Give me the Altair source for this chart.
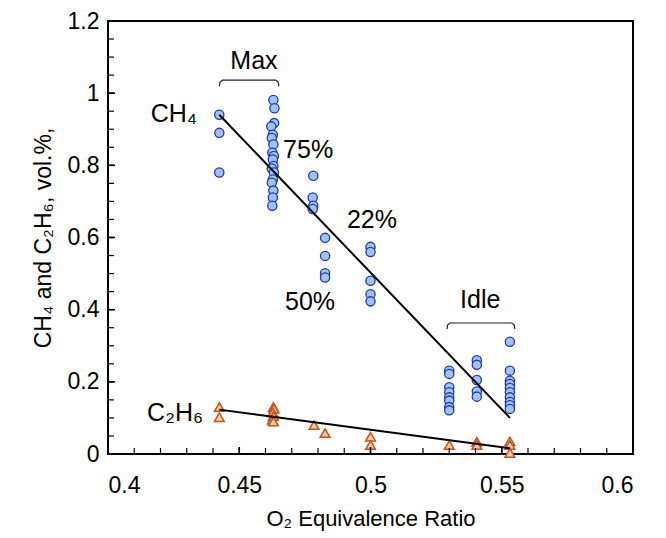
import altair as alt
import pandas as pd

# ---------------- data ----------------
ch4_x = [0.4424, 0.4424, 0.4424,
         0.4630, 0.4634, 0.4633, 0.4622, 0.4628, 0.4624, 0.4630, 0.4626, 0.4632, 0.4628,
         0.4630, 0.4624, 0.4632, 0.4628, 0.4624, 0.4630, 0.4628, 0.4626,
         0.4782, 0.4780, 0.4782, 0.4780,
         0.4827, 0.4827, 0.4827, 0.4827,
         0.5000, 0.5000, 0.5000, 0.5000, 0.5000,
         0.5300, 0.5300, 0.5300, 0.5300, 0.5300, 0.5300, 0.5300, 0.5300,
         0.5405, 0.5405, 0.5405, 0.5405, 0.5405,
         0.5531, 0.5531, 0.5531, 0.5531, 0.5531, 0.5531, 0.5531, 0.5531, 0.5531, 0.5531]
ch4_y = [0.94, 0.89, 0.78,
         0.981, 0.958, 0.917, 0.908, 0.885, 0.876, 0.858, 0.835, 0.826, 0.816,
         0.798, 0.791, 0.780, 0.761, 0.752, 0.730, 0.711, 0.688,
         0.771, 0.711, 0.688, 0.679,
         0.599, 0.549, 0.501, 0.489,
         0.574, 0.560, 0.480, 0.443, 0.423,
         0.231, 0.222, 0.185, 0.171, 0.157, 0.148, 0.130, 0.121,
         0.260, 0.247, 0.205, 0.173, 0.159,
         0.311, 0.231, 0.203, 0.194, 0.183, 0.171, 0.157, 0.144, 0.135, 0.125]

c2h6_x = [0.4424, 0.4424,
          0.4630, 0.4632, 0.4628, 0.4630, 0.4626, 0.4630,
          0.4785, 0.4827, 0.5000, 0.5000, 0.5300,
          0.5405, 0.5405, 0.5531, 0.5531, 0.5531]
c2h6_y = [0.130, 0.102,
          0.130, 0.125, 0.115, 0.105, 0.095, 0.090,
          0.080, 0.058, 0.048, 0.025, 0.025,
          0.034, 0.025, 0.035, 0.025, 0.003]

ch4_fit_x = [0.4424, 0.5531]
ch4_fit_y = [0.94, 0.10]
c2h6_fit_x = [0.4424, 0.5531]
c2h6_fit_y = [0.123, 0.016]

labels_text = ["Max", "Idle", "CH\u2084", "C\u2082H\u2086", "75%", "22%", "50%"]
labels_x = [0.4556, 0.5418, 0.4251, 0.4362, 0.4667, 0.4910, 0.4865]
labels_y = [1.090, 0.428, 0.942, 0.113, 0.843, 0.648, 0.420]
labels_align = ["center", "center", "center", "right", "left", "left", "right"]

max_br_x = [0.4424, 0.4427, 0.4436, 0.4639, 0.4648, 0.4651]
max_br_y = [1.019, 1.031, 1.036, 1.036, 1.031, 1.019]
idle_br_x = [0.5291, 0.5294, 0.5303, 0.5538, 0.5547, 0.5550]
idle_br_y = [0.346, 0.358, 0.363, 0.363, 0.358, 0.346]

x_major = [0.4, 0.45, 0.5, 0.55, 0.6]
y_major = [0, 0.2, 0.4, 0.6, 0.8, 1, 1.2]
x_minor = [round(0.4 + 0.01 * i, 2) for i in range(21)]
y_minor = [round(0.05 * i, 2) for i in range(25)]

# ---------------- chart ----------------
W, H = 525, 433
FONT = "Liberation Sans"
xs = alt.Scale(domain=[0.4, 0.6], nice=False, zero=False)
ys = alt.Scale(domain=[0, 1.2], nice=False, zero=False)

xaxis = alt.Axis(values=x_major, format="~g", ticks=False, domain=False, grid=False,
                 labelPadding=20, titlePadding=11, title="O\u2082 Equivalence Ratio",
                 labelFont=FONT, labelFontSize=23, labelColor="black",
                 titleFont=FONT, titleFontSize=22, titleFontWeight="normal", titleColor="black")
yaxis = alt.Axis(values=y_major, format="~g", ticks=False, domain=False, grid=False,
                 labelPadding=9, titlePadding=12, title="CH\u2084 and C\u2082H\u2086, vol.%,",
                 labelFont=FONT, labelFontSize=23, labelColor="black",
                 titleFont=FONT, titleFontSize=23, titleFontWeight="normal", titleColor="black")

ch4_df = pd.DataFrame({"x": ch4_x, "y": ch4_y})
c2h6_df = pd.DataFrame({"x": c2h6_x, "y": c2h6_y})

ch4_pts = alt.Chart(ch4_df).mark_point(
    shape="circle", filled=True, fill="#9dc3fa", stroke="#2236b0", strokeWidth=1.3,
    size=85, opacity=1).encode(
    x=alt.X("x:Q", scale=xs, axis=xaxis),
    y=alt.Y("y:Q", scale=ys, axis=yaxis))

c2h6_pts = alt.Chart(c2h6_df).mark_point(
    shape="triangle-up", filled=True, fill="#fcc89c", stroke="#c0561c", strokeWidth=1.5,
    size=95, opacity=1).encode(
    x=alt.X("x:Q", scale=xs), y=alt.Y("y:Q", scale=ys))

fit_df = pd.DataFrame({"x": ch4_fit_x + c2h6_fit_x, "y": ch4_fit_y + c2h6_fit_y,
                       "s": ["ch4"] * 2 + ["c2h6"] * 2})
fits = alt.Chart(fit_df).mark_line(color="black", strokeWidth=2).encode(
    x=alt.X("x:Q", scale=xs), y=alt.Y("y:Q", scale=ys), detail="s:N")

br_df = pd.DataFrame({"x": max_br_x + idle_br_x, "y": max_br_y + idle_br_y,
                      "b": ["max"] * 6 + ["idle"] * 6,
                      "o": list(range(6)) + list(range(6))})
brackets = alt.Chart(br_df).mark_line(color="#222222", strokeWidth=1.2).encode(
    x=alt.X("x:Q", scale=xs), y=alt.Y("y:Q", scale=ys), detail="b:N", order="o:Q")

txt_layers = []
for al in ["left", "center", "right"]:
    d = pd.DataFrame({"x": [a for a, g in zip(labels_x, labels_align) if g == al],
                      "y": [a for a, g in zip(labels_y, labels_align) if g == al],
                      "t": [a for a, g in zip(labels_text, labels_align) if g == al]})
    txt_layers.append(alt.Chart(d).mark_text(font=FONT, fontSize=25, align=al,
                                             baseline="middle", color="black").encode(
        x=alt.X("x:Q", scale=xs), y=alt.Y("y:Q", scale=ys), text="t:N"))

xmaj_df = pd.DataFrame({"v": x_major})
xmin_df = pd.DataFrame({"v": x_minor})
ymaj_df = pd.DataFrame({"v": y_major})
ymin_df = pd.DataFrame({"v": y_minor})
tick_layers = [
    alt.Chart(xmin_df).mark_rule(color="black", strokeWidth=1.2).encode(
        x=alt.X("v:Q", scale=xs), y=alt.value(H), y2=alt.value(H - 6)),
    alt.Chart(xmaj_df).mark_rule(color="black", strokeWidth=1.6).encode(
        x=alt.X("v:Q", scale=xs), y=alt.value(H), y2=alt.value(H - 7)),
    alt.Chart(ymin_df).mark_rule(color="black", strokeWidth=1.2).encode(
        y=alt.Y("v:Q", scale=ys), x=alt.value(0), x2=alt.value(6)),
    alt.Chart(ymaj_df).mark_rule(color="black", strokeWidth=1.6).encode(
        y=alt.Y("v:Q", scale=ys), x=alt.value(0), x2=alt.value(7)),
]

chart = alt.layer(ch4_pts, c2h6_pts, fits, brackets, *txt_layers, *tick_layers).properties(
    width=W, height=H,
    autosize=alt.AutoSizeParams(type="none"),
    padding={"left": 100, "top": 13, "right": 20, "bottom": 84},
    background="white",
).configure_view(stroke="black", strokeWidth=2)

chart.save("out.html", embed_options={"renderer": "svg", "actions": False})
